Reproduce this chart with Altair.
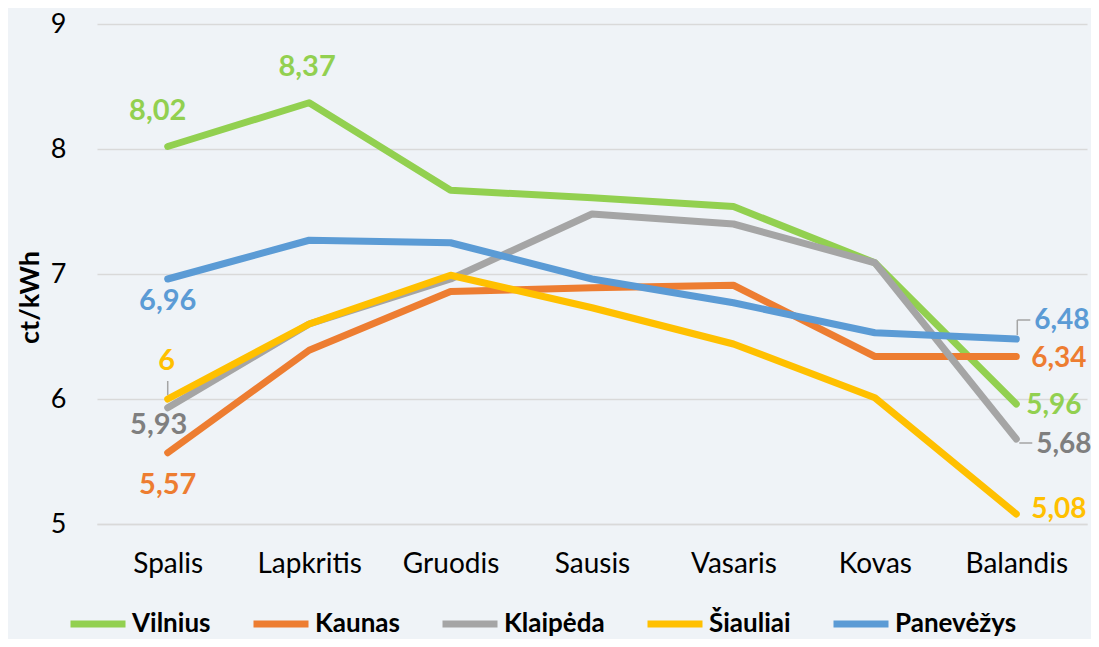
import altair as alt
import pandas as pd

months = ["Spalis", "Lapkritis", "Gruodis", "Sausis", "Vasaris", "Kovas", "Balandis"]
cities = ["Vilnius", "Kaunas", "Klaipėda", "Šiauliai", "Panevėžys"]
vilnius = [8.02, 8.37, 7.67, 7.61, 7.54, 7.09, 5.96]
kaunas = [5.57, 6.39, 6.86, 6.89, 6.91, 6.34, 6.34]
klaipeda = [5.93, 6.60, 6.96, 7.48, 7.40, 7.09, 5.68]
siauliai = [6.00, 6.60, 6.99, 6.73, 6.44, 6.01, 5.08]
panevezys = [6.96, 7.27, 7.25, 6.96, 6.77, 6.53, 6.48]
y_ticks = [5, 6, 7, 8, 9]

line_colors = ["#92D050", "#ED7D31", "#A5A5A5", "#FFC000", "#5B9BD5"]
label_colors = {"Vilnius": "#92D050", "Kaunas": "#ED7D31", "Klaipėda": "#7F7F7F",
                "Šiauliai": "#FFC000", "Panevėžys": "#5B9BD5"}

series = [vilnius, kaunas, klaipeda, siauliai, panevezys]
rows = []
for c, vals in zip(cities, series):
    for m, v in zip(months, vals):
        rows.append({"city": c, "month": m, "value": v})
df = pd.DataFrame(rows)


def fmt(v):
    s = f"{v:.2f}".rstrip("0").rstrip(".")
    return s.replace(".", ",")


df["text"] = df["value"].apply(fmt)

# labelled points and their offsets / font sizes (style)
placements = {
    ("Vilnius", "Spalis"): (-10, -36, "center", 29),
    ("Vilnius", "Lapkritis"): (-2, -36, "center", 29),
    ("Vilnius", "Balandis"): (10, 2, "left", 28),
    ("Kaunas", "Spalis"): (0, 32, "center", 29),
    ("Kaunas", "Balandis"): (15, 2, "left", 28),
    ("Klaipėda", "Spalis"): (-9, 17, "center", 29),
    ("Klaipėda", "Balandis"): (20, 6, "left", 28),
    ("Šiauliai", "Spalis"): (-1, -38, "center", 29),
    ("Šiauliai", "Balandis"): (15, -4, "left", 28),
    ("Panevėžys", "Spalis"): (0, 22, "center", 29),
    ("Panevėžys", "Balandis"): (18, -18, "left", 28),
}
# leader-line segments: (city, month, kind, offsets) - style only
leaders = [
    ("Panevėžys", "Balandis", "v", (1, -4, -19)),
    ("Panevėžys", "Balandis", "h", (-19, 1, 14)),
    ("Klaipėda", "Balandis", "h", (4, 3, 16)),
    ("Šiauliai", "Spalis", "v", (0, -4, -18)),
]

FONT = "Lato"

x_enc = alt.X("month:N", sort=months, scale=alt.Scale(type="point", padding=0.5),
              axis=alt.Axis(title=None, labelFontSize=28, labelFont=FONT, labelColor="#000000",
                            labelPadding=26, ticks=False, domain=True, domainColor="#D9D9D9",
                            domainWidth=1.5, grid=False, labelAngle=0, labelAlign="center"))
y_enc = alt.Y("value:Q", scale=alt.Scale(domain=[5, 9], nice=False, zero=False),
              axis=alt.Axis(title="ct/kWh", values=y_ticks, format="d", labelFontSize=27,
                            labelFont=FONT, labelColor="#000000", labelPadding=31,
                            ticks=False, domain=False,
                            grid=True, gridColor="#D9D9D9", gridWidth=1.5,
                            titleFontSize=27, titleFont=FONT, titleFontWeight="bold",
                            titleColor="#000000", titleX=-67, titleY=273, titleAngle=-90,
                            titleBaseline="middle", titleAlign="center"))

lines = alt.Chart(df).mark_line(strokeWidth=7, strokeCap="round", strokeJoin="round").encode(
    x=x_enc,
    y=y_enc,
    color=alt.Color("city:N", sort=cities,
                    scale=alt.Scale(domain=cities, range=line_colors),
                    legend=alt.Legend(orient="none", legendX=-30, legendY=569,
                                      direction="horizontal", title=None,
                                      symbolType="stroke", symbolSize=3025,
                                      symbolStrokeWidth=7, labelFontSize=26,
                                      labelFont=FONT, labelFontWeight="bold",
                                      labelColor="#000000", columnPadding=28,
                                      labelOffset=3)),
)

layers = [lines]
for c, m, kind, offs in leaders:
    flt = (alt.datum.city == c) & (alt.datum.month == m)
    if kind == "v":
        xo, y1o, y2o = offs
        r = alt.Chart(df).transform_filter(flt).mark_rule(
            color="#A5A5A5", strokeWidth=1.5, xOffset=xo, yOffset=y1o, y2Offset=y2o
        ).encode(x=alt.X("month:N", sort=months), y="value:Q", y2="value:Q")
    else:
        yo, x1o, x2o = offs
        r = alt.Chart(df).transform_filter(flt).mark_rule(
            color="#A5A5A5", strokeWidth=1.5, yOffset=yo, xOffset=x1o, x2Offset=x2o
        ).encode(x=alt.X("month:N", sort=months), x2="month:N", y="value:Q")
    layers.append(r)

for (c, m), (dx, dy, align, fs) in placements.items():
    t = alt.Chart(df).transform_filter(
        (alt.datum.city == c) & (alt.datum.month == m)
    ).mark_text(font=FONT, fontSize=fs, fontWeight="bold", dx=dx, dy=dy,
                align=align, baseline="middle", color=label_colors[c]).encode(
        x=alt.X("month:N", sort=months),
        y=alt.Y("value:Q"),
        text="text:N",
    )
    layers.append(t)

chart = alt.layer(*layers).properties(
    width=990, height=500,
    padding={"left": 89, "top": 16, "right": 4, "bottom": 115},
    autosize=alt.AutoSizeParams(type="none"),
).configure(background="#EFF3F7").configure_view(stroke=None)

chart.save("out.html", embed_options={"renderer": "svg", "actions": False})
